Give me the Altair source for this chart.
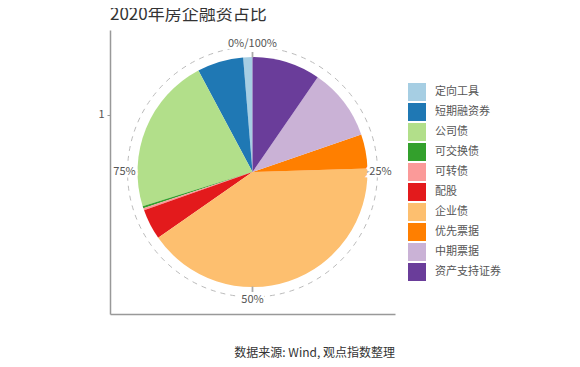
import altair as alt
import pandas as pd

categories = ["定向工具", "短期融资券", "公司债", "可交换债", "可转债", "配股", "企业债", "优先票据", "中期票据", "资产支持证券"]
shares = [1.3, 6.5, 22.0, 0.3, 0.3, 4.3, 40.8, 4.8, 10.1, 9.6]
colors = ["#a6cee3", "#1f78b4", "#b2df8a", "#33a02c", "#fb9a99", "#e31a1c", "#fdbf6f", "#ff7f00", "#cab2d6", "#6a3d9a"]

tick_pos = [0, 25, 50, 75]
tick_labels = ["0%/100%", "25%", "50%", "75%"]
title_text = ["2020年房企融资占比"]
source_text = ["数据来源: Wind, 观点指数整理"]

FONT = "Noto Sans CJK SC"
W, H = 285, 284

df = pd.DataFrame({"cat": categories, "share": shares, "idx": list(range(len(categories)))})
tick_df = pd.DataFrame({"pos": tick_pos, "label": tick_labels})
tick_df["t0"] = tick_df["pos"] - 0.12
tick_df["t1"] = tick_df["pos"] + 0.12
axis_df = pd.DataFrame({"x": [0], "y": [1]})
src_df = pd.DataFrame({"src": source_text})
title_df = pd.DataFrame({"t": title_text})

theta_scale = alt.Scale(domain=[0, 100])

axes = alt.Chart(axis_df).mark_point(opacity=0).encode(
    x=alt.X("x:Q", scale=alt.Scale(domain=[0, 1]),
            axis=alt.Axis(title=None, labels=False, ticks=False, grid=False,
                          domainColor="#999999", domainWidth=1.5, zindex=1)),
    y=alt.Y("y:Q", scale=alt.Scale(domain=[0, 1.427]),
            axis=alt.Axis(title=None, values=[1], grid=False, domainColor="#999999",
                          domainWidth=1.5, tickColor="#999999", tickSize=3,
                          labelColor="#555555", labelFontSize=11, labelFont=FONT,
                          labelPadding=3, zindex=1)),
)

circle = alt.Chart(axis_df).mark_arc(
    theta=0, theta2=6.2832, outerRadius=125, fillOpacity=0,
    stroke="#bbbbbb", strokeWidth=1, strokeDash=[5, 5]
).encode(x=alt.value(W / 2), y=alt.value(H / 2))

pie = alt.Chart(df).mark_arc(outerRadius=115).encode(
    theta=alt.Theta("share:Q", stack=True, scale=theta_scale),
    color=alt.Color("cat:N", scale=alt.Scale(domain=categories, range=colors),
                    legend=alt.Legend(title=None, orient="none", legendX=298, legendY=53,
                                      symbolType="square", symbolSize=324, symbolStrokeWidth=0,
                                      labelFontSize=11, labelColor="#555555", labelFont=FONT,
                                      rowPadding=2, labelOffset=9, padding=0)),
    order=alt.Order("idx:Q", sort="descending"),
)

ticks = alt.Chart(tick_df).mark_arc(innerRadius=114.5, outerRadius=120, color="#aaaaaa").encode(
    theta=alt.Theta("t0:Q", stack=None, scale=theta_scale),
    theta2="t1:Q",
)

halo = alt.Chart(tick_df).mark_text(
    radius=128, fontSize=11, font=FONT, color="white", stroke="white", strokeWidth=5
).encode(theta=alt.Theta("pos:Q", stack=None, scale=theta_scale), text="label:N")

labels = alt.Chart(tick_df).mark_text(
    radius=128, fontSize=11, font=FONT, color="#555555"
).encode(theta=alt.Theta("pos:Q", stack=None, scale=theta_scale), text="label:N")

source = alt.Chart(src_df).mark_text(
    align="right", baseline="middle", fontSize=12, font=FONT, color="#333333"
).encode(x=alt.value(W), y=alt.value(323), text="src:N")

title = alt.Chart(title_df).mark_text(
    align="left", baseline="middle", fontSize=17, font=FONT, color="#333333"
).encode(x=alt.value(0), y=alt.value(-15), text="t:N")

chart = alt.layer(axes, circle, pie, ticks, halo, labels, source, title).properties(
    width=W, height=H,
    autosize=alt.AutoSizeParams(type="none"),
    padding={"left": 102, "top": 22, "right": 177, "bottom": 45},
    background="white",
).configure_view(stroke=None)

chart.save("out.html", embed_options={"renderer": "svg", "actions": False})
